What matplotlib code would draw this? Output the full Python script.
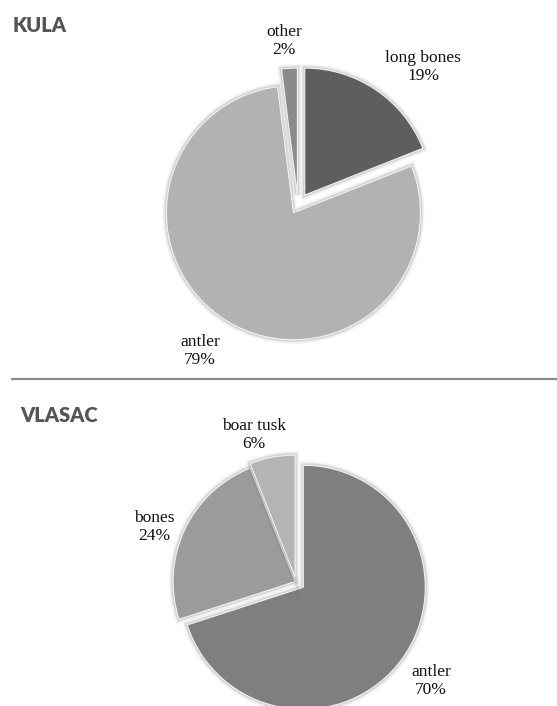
import matplotlib
matplotlib.use("Agg")
import matplotlib.pyplot as plt
import matplotlib.patheffects as pe

# KULA
kula_labels = ["long bones", "antler", "other"]
kula_values = [19, 79, 2]
kula_colors = ["#5e5e5e", "#b2b2b2", "#8b8b8b"]

# VLASAC
vlasac_labels = ["antler", "bones", "boar tusk"]
vlasac_values = [70, 24, 6]
vlasac_colors = ["#7f7f7f", "#9b9b9b", "#b4b4b4"]

W, H = 557, 706

fig = plt.figure(figsize=(W / 100, H / 100), dpi=100)
ax = fig.add_axes([0, 0, 1, 1])

# soft glow around the wedges, like the office-style chart
glow = [pe.Stroke(linewidth=6, foreground="#000000", alpha=0.04),
        pe.Stroke(linewidth=4, foreground="#000000", alpha=0.06),
        pe.Stroke(linewidth=2.5, foreground="#000000", alpha=0.08),
        pe.Normal()]


def draw_pie(values, colors, labels, center, radius, explode, label_pos):
    wedges, _ = ax.pie(values, colors=colors, startangle=90, counterclock=False,
                       center=center, radius=radius, explode=explode,
                       wedgeprops=dict(edgecolor="#f2f2f2", linewidth=0.8),
                       frame=True)
    for w in wedges:
        w.set_path_effects(glow)
    for lab, val, (x, y) in zip(labels, values, label_pos):
        ax.text(x, H - y, f"{lab}\n{val}%", ha="center", va="center",
                fontsize=12.5, family="Liberation Serif", color="#111111",
                linespacing=1.2)


# pie geometry in pixels (y measured from top)
draw_pie(kula_values, kula_colors, kula_labels,
         center=(298, H - 205), radius=127, explode=[12, 9, 10],
         label_pos=[(423, 67), (200, 351), (284, 41)])

draw_pie(vlasac_values, vlasac_colors, vlasac_labels,
         center=(296, H - 582), radius=122, explode=[9, 1, 5],
         label_pos=[(431, 681), (154, 527), (254, 435)])

ax.set_xlim(0, W)
ax.set_ylim(0, H)
ax.set_aspect("equal")
ax.axis("off")

ax.text(13, H - 32, "KULA", ha="left", va="baseline", fontsize=14.5,
        family="Lato", fontweight="heavy", color="#555555")
ax.text(20, H - 422, "VLASAC", ha="left", va="baseline", fontsize=14.5,
        family="Lato", fontweight="heavy", color="#555555")

ax.plot([11, W], [H - 379, H - 379], color="#8c8c8c", linewidth=1.6,
        solid_capstyle="butt")

fig.savefig("out.png", dpi=100, facecolor="white")
